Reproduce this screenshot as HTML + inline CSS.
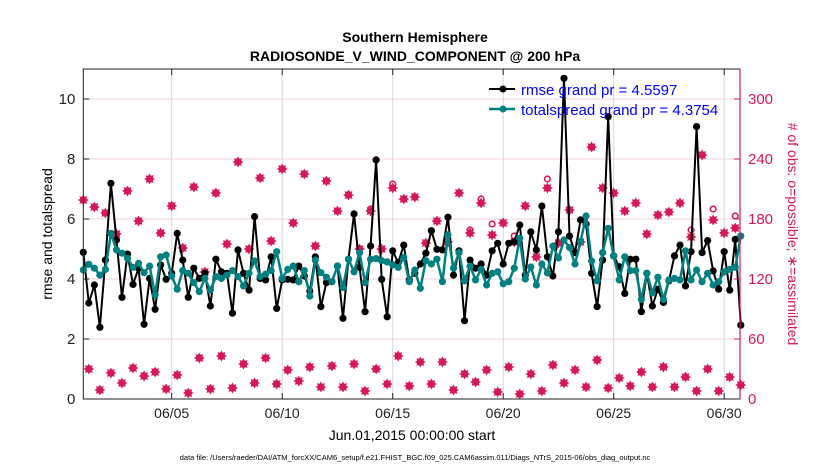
<!DOCTYPE html>
<html><head><meta charset="utf-8"><style>
body{margin:0;background:#fff;}
svg{display:block;font-family:"Liberation Sans",sans-serif;}
</style></head><body>
<svg id="chart" width="830" height="470" viewBox="0 0 830 470" xmlns="http://www.w3.org/2000/svg">
<rect width="830" height="470" fill="#fff"/>
<text x="415" y="42" text-anchor="middle" font-size="14" font-weight="bold">Southern Hemisphere</text>
<text x="415" y="61" text-anchor="middle" font-size="14" font-weight="bold">RADIOSONDE_V_WIND_COMPONENT @ 200 hPa</text>
<g id="grid"></g>
<g id="obs"></g>
<g id="series"></g>
<g id="axes"></g>
<text transform="translate(52,234) rotate(-90)" text-anchor="middle" font-size="14">rmse and totalspread</text>
<text transform="translate(788,234) rotate(90)" text-anchor="middle" font-size="14" fill="#d6175a"># of obs: o=possible; ∗=assimilated</text>
<text x="412" y="440" text-anchor="middle" font-size="14">Jun.01,2015 00:00:00 start</text>
<text x="415" y="460" text-anchor="middle" font-size="7.5">data file: /Users/raeder/DAI/ATM_forcXX/CAM6_setup/f.e21.FHIST_BGC.f09_025.CAM6assim.011/Diags_NTrS_2015-06/obs_diag_output.nc</text>
<g>
<line x1="489" y1="89" x2="515" y2="89" stroke="#000" stroke-width="2"/>
<circle cx="503" cy="89" r="3.5" fill="#000"/>
<text x="521" y="95" font-size="15" fill="#0000ff">rmse grand pr = 4.5597</text>
<line x1="489" y1="109" x2="515" y2="109" stroke="#008080" stroke-width="2.5"/>
<circle cx="503" cy="109" r="3.5" fill="#008080"/>
<text x="521" y="115" font-size="15" fill="#0000ff">totalspread grand pr = 4.3754</text>
</g>
</svg>
<script>
const rmse=[4.89,3.2,3.8,2.39,4.63,7.19,5.3,3.39,4.83,3.82,4.36,2.49,4.02,2.99,4.47,3.99,4.19,5.52,4.63,3.39,4.36,4.02,4.19,3.1,4.66,4.24,4.19,2.86,4.97,4.19,3.63,6.08,4.02,3.97,4.74,3.02,3.97,3.99,3.97,4.43,
4.1,3.6,4.74,3.08,3.88,3.91,4.43,2.69,4.66,6.17,4.39,2.91,5.1,7.97,3.99,2.74,4.94,4.54,5.13,3.97,4.19,4.5,4.86,5.61,4.99,4.97,6.06,4.13,4.94,2.61,4.63,4.36,4.5,4.13,4.94,5.19,4.5,5.19,5.24,5.8,
4.13,5.57,4.97,6.43,4.74,4.1,5.57,10.69,5.43,4.88,5.97,5.83,4.19,3.08,4.63,9.41,4.77,4.41,3.52,4.66,4.66,2.91,4.19,3.1,3.66,3.22,3.94,4.77,5.13,3.77,4.91,9.08,4.88,5.28,4.27,3.66,4.91,3.63,5.32,2.46];
const spread=[4.3,4.49,4.36,4.13,4.32,5.52,4.97,4.86,4.69,4.39,4.52,4.21,4.43,3.47,4.74,4.8,4.1,3.66,4.28,4.19,3.88,3.58,4.02,3.63,4.08,4.02,4.13,4.28,4.08,3.77,4.19,4.6,4.08,4.16,4.28,4.91,4.02,4.32,4.43,3.91,
4.28,3.43,4.63,4.21,4.06,3.91,4.43,3.72,4.66,4.24,4.88,3.88,4.66,4.68,4.61,4.57,4.47,4.39,4.72,3.91,4.3,3.69,4.61,4.5,4.66,3.91,5.47,4.36,4.88,3.94,4.43,3.97,4.32,3.8,4.19,4.24,3.84,3.91,4.36,5.36,
4.0,4.4,3.8,4.5,4.2,5.1,4.7,5.3,5.05,4.5,5.25,6.1,4.6,3.94,4.88,5.69,4.77,3.97,4.74,4.28,4.28,3.32,4.19,3.54,4.06,3.32,3.97,4.02,3.97,4.94,3.97,4.3,3.91,4.19,3.8,3.91,4.24,4.32,4.39,5.43];
const nUsed=[199,30,192,9,186,26,165,16,208,31,178,23,220,27,166,10,193,24,151,6,212,41,127,10,206,43,155,11,237,35,150,16,221,41,158,15,230,29,176,18,
225,32,153,12,218,33,188,12,204,35,150,8,188,30,150,15,211,43,200,13,202,37,156,15,178,37,157,9,206,25,166,17,196,29,164,7,176,32,157,5,
193,25,142,8,211,34,156,16,189,29,157,12,252,39,211,11,206,21,188,13,196,27,165,12,184,32,187,12,196,22,162,8,244,30,179,8,166,22,171,14];
const nPossible=[199,30,192,9,186,26,165,16,208,31,178,23,220,27,166,10,193,24,151,6,212,41,127,10,206,43,155,11,237,35,150,16,221,41,158,15,230,29,176,18,
225,32,153,12,218,33,188,12,204,35,150,8,190,30,150,15,215,43,200,13,202,37,156,15,178,37,157,9,206,25,169,17,200,29,175,7,176,32,163,5,
193,25,142,8,220,34,156,16,189,29,157,12,252,39,211,11,206,21,188,13,196,27,165,12,184,32,187,12,196,22,169,8,244,30,190,8,166,22,183,14];
const leftTicks=[0,2,4,6,8,10];
const rightTicks=[0,60,120,180,240,300];
const dateTicks=[4,9,14,19,24,29];
const dateLabels=["06/05","06/10","06/15","06/20","06/25","06/30"];

const NS="http://www.w3.org/2000/svg";
const X0=83.3,PXD=22.1,Y0=399,PXU=30,TOP=69,RIGHT=740;
const xDay=d=>X0+d*PXD;
const xIdx=i=>xDay(i*0.25);
const yL=v=>Y0-v*PXU;
const yR=c=>Y0-c*PXU/30;
function mk(tag,attrs,parent){const e=document.createElementNS(NS,tag);for(const k in attrs)e.setAttribute(k,attrs[k]);parent.appendChild(e);return e;}
const grid=document.getElementById('grid'),axes=document.getElementById('axes'),obs=document.getElementById('obs'),ser=document.getElementById('series');

leftTicks.forEach(t=>{
  const y=yL(t);
  const g=mk('line',{x1:X0,x2:RIGHT,y1:y,y2:y,stroke:'#f2d3de','stroke-width':1},grid);
  
  
  mk('line',{x1:X0,x2:X0+6,y1:y,y2:y,stroke:'#222'},axes);
  const tx=mk('text',{x:X0-8,y:y+5,'text-anchor':'end','font-size':15,fill:'#222'},axes);
  tx.textContent=t;
  
  
});
rightTicks.forEach(t=>{
  const y=yR(t);
  mk('line',{x1:RIGHT-6,x2:RIGHT,y1:y,y2:y,stroke:'#d6175a'},axes);
  const tx=mk('text',{x:RIGHT+8,y:y+5,'font-size':15,fill:'#d6175a'},axes);
  tx.textContent=t;
  
  
});
dateTicks.forEach((d,k)=>{
  const x=xDay(d);
  const g=mk('line',{x1:x,x2:x,y1:TOP,y2:Y0,stroke:'#d8d8d8','stroke-width':1},grid);
  
  
  mk('line',{x1:x,x2:x,y1:Y0,y2:Y0-6,stroke:'#222'},axes);
  mk('line',{x1:x,x2:x,y1:TOP,y2:TOP+6,stroke:'#222'},axes);
  const tx=mk('text',{x:x,y:Y0+19,'text-anchor':'middle','font-size':14,fill:'#222'},axes);
  tx.textContent=dateLabels[k];
  
  
});
const box=mk('rect',{x:X0,y:TOP,width:RIGHT-X0,height:Y0-TOP,fill:'none',stroke:'#222','stroke-width':1},axes);


const rax=mk('line',{x1:RIGHT,x2:RIGHT,y1:TOP,y2:Y0,stroke:'#d6175a','stroke-width':1.2},axes);



nPossible.forEach((c,i)=>{
  const ci=mk('circle',{cx:xIdx(i),cy:yR(c),r:2.8,fill:'none',stroke:'#d6175a','stroke-width':1.6},obs);
  
  
});
function starPath(cx,cy){let p='';for(let k=0;k<16;k++){const a=k*Math.PI/8;const r=k%2?3.4:5.5;p+=(k?'L':'M')+(cx+r*Math.sin(a)).toFixed(2)+','+(cy-r*Math.cos(a)).toFixed(2);}return p+'Z';}
nUsed.forEach((c,i)=>{
  const s=mk('path',{d:starPath(xIdx(i),yR(c)),fill:'#d6175a'},obs);
  
  
});

function drawSeries(arr,color,lw,name){
  const pts=arr.map((v,i)=>xIdx(i).toFixed(2)+','+yL(v).toFixed(2)).join(' ');
  const pl=mk('polyline',{points:pts,fill:'none',stroke:color,'stroke-width':lw,'stroke-linejoin':'round'},ser);
  
  
  arr.forEach((v,i)=>{
    const c=mk('circle',{cx:xIdx(i),cy:yL(v),r:3.6,fill:color},ser);
    
    
  });
}
drawSeries(rmse,'#000',2,'rmse');
drawSeries(spread,'#008080',2.5,'totalspread');
</script>
</body></html>
